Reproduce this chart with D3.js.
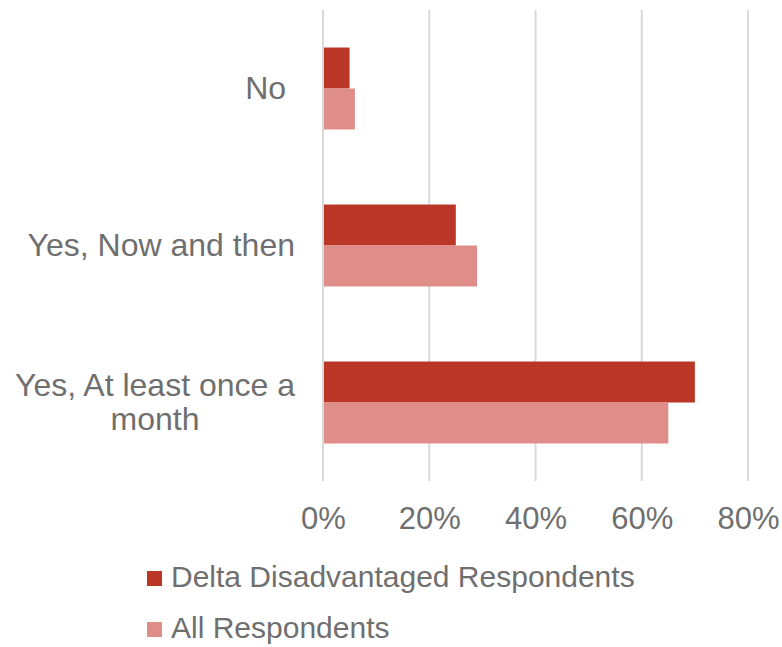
<!DOCTYPE html>
<html>
<head>
<meta charset="utf-8">
<script src="https://cdn.jsdelivr.net/npm/d3@7"></script>
<style>
  body { margin: 0; background: #fff; }
  text { font-family: "Liberation Sans", Arial, sans-serif; fill: #6f6f6f; }
</style>
</head>
<body>
<svg id="chart"></svg>
<script>
// categories (wrapped as in the original), series and ticks
const categories = ["No", "Yes, Now and then", "Yes, At least once a month"];
const categoryLines = [["No "], ["Yes, Now and then"], ["Yes, At least once a", "month"]];
const seriesNames = ["Delta Disadvantaged Respondents", "All Respondents"];
const deltaValues = [0.05, 0.25, 0.70];
const allValues = [0.06, 0.29, 0.65];
const tickValues = [0, 0.2, 0.4, 0.6, 0.8];
const colors = ["#ba3626", "#df8d88"];

const width = 782, height = 647;
const svg = d3.select("#chart").attr("width", width).attr("height", height);

const x = d3.scaleLinear().domain([0, 0.8]).range([323, 748]);
const y = d3.scaleBand().domain(categories).range([10, 481])
  .paddingInner(0.478).paddingOuter(0.239);
const sub = d3.scaleBand().domain(seriesNames).range([0, y.bandwidth()]);

// gridlines
svg.append("g").selectAll("line")
  .data(tickValues)
  .enter().append("line")
  .attr("x1", d => x(d)).attr("x2", d => x(d))
  .attr("y1", 10).attr("y2", 481)
  .attr("stroke", "#d9d9d9")
  .attr("stroke-width", 2);

// bars
const rows = categories.map((c, i) => ({ cat: c, vals: [deltaValues[i], allValues[i]] }));
const groups = svg.append("g").selectAll("g")
  .data(rows)
  .enter().append("g")
  .attr("transform", d => `translate(0,${y(d.cat)})`);

groups.selectAll("rect")
  .data(d => d.vals.map((v, j) => ({ name: seriesNames[j], v, j })))
  .enter().append("rect")
  .attr("x", x(0) + 1)
  .attr("y", d => sub(d.name))
  .attr("width", d => x(d.v) - x(0) - 1)
  .attr("height", sub.bandwidth())
  .attr("fill", d => colors[d.j]);

// x tick labels
const xAxis = d3.axisBottom(x).tickValues(tickValues).tickFormat(d3.format(".0%")).tickSize(0).tickPadding(0);
const ax = svg.append("g").attr("transform", "translate(0,529)").call(xAxis);
ax.select(".domain").remove();
ax.selectAll("text").attr("dy", null).attr("font-size", 31).style("font-family", null).attr("fill", null);

// category labels: block right-aligned at the axis, lines centred inside it
const labelRight = 295, lh = 34;
const labels = svg.append("g").selectAll("text")
  .data(categories.map((c, i) => ({ cat: c, lines: categoryLines[i] })))
  .enter().append("text")
  .attr("font-size", 32)
  .attr("text-anchor", "middle")
  .style("white-space", "pre");

labels.each(function(d) {
  const t = d3.select(this);
  const cy = y(d.cat) + y.bandwidth() / 2;
  const y0 = cy + 10.5 - (d.lines.length - 1) * lh / 2;
  const spans = d.lines.map((ln, k) =>
    t.append("tspan").attr("y", y0 + k * lh).text(ln));
  const maxW = d3.max(spans, s => s.node().getComputedTextLength());
  spans.forEach(s => s.attr("x", labelRight - maxW / 2));
});

// legend
const legend = svg.append("g").selectAll("g")
  .data(seriesNames)
  .enter().append("g")
  .attr("transform", (d, i) => `translate(147,${571 + i * 51})`);
legend.append("rect").attr("width", 15).attr("height", 15).attr("fill", (d, i) => colors[i]);
legend.append("text").attr("x", 24).attr("y", 15.5).attr("font-size", 30).text(d => d);
</script>
</body>
</html>
